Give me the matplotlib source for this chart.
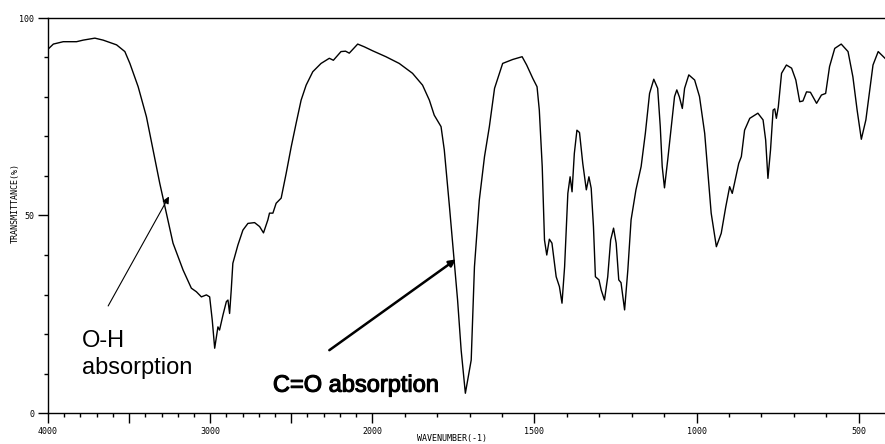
import numpy as np
import matplotlib
matplotlib.use("Agg")
import matplotlib.pyplot as plt
import matplotlib.ticker as mticker
import matplotlib.patheffects as pe

# IR spectrum (wavenumber in cm-1, transmittance in %)
wavenumber = [4000, 3967, 3906, 3824, 3783, 3711, 3660, 3577, 3526, 3495,
              3444, 3393, 3352, 3311, 3270, 3229, 3167, 3116, 3085, 3054,
              3023, 3003, 2987, 2972, 2952, 2942, 2921, 2900, 2890, 2880,
              2870, 2860, 2829, 2798, 2767, 2726, 2695, 2671, 2644, 2634,
              2613, 2593, 2562, 2531, 2500, 2470, 2439, 2408, 2367, 2316,
              2265, 2240, 2193, 2165, 2142, 2090, 2049, 1999, 1958, 1917,
              1876, 1845, 1824, 1809, 1788, 1778, 1762, 1747, 1737, 1726,
              1713, 1695, 1685, 1670, 1654, 1639, 1623, 1598, 1567, 1538,
              1524, 1505, 1492, 1485, 1476, 1469, 1462, 1454, 1446, 1433,
              1423, 1415, 1407, 1397, 1390, 1384, 1377, 1369, 1361, 1351,
              1340, 1332, 1325, 1318, 1312, 1301, 1294, 1284, 1274, 1265,
              1256, 1248, 1240, 1233, 1222, 1212, 1202, 1187, 1171, 1158,
              1145, 1132, 1120, 1112, 1106, 1099, 1089, 1078, 1068, 1061,
              1053, 1044, 1037, 1024, 1006, 991, 975, 965, 955, 939,
              924, 910, 898, 890, 883, 870, 862, 852, 836, 811,
              795, 787, 780, 772, 764, 759, 754, 748, 738, 723,
              707, 694, 682, 672, 661, 649, 630, 615, 602, 590,
              574, 554, 533, 518, 505, 492, 478, 466, 456, 440,
              419]
transmittance = [92.1, 93.4, 94.0, 94.0, 94.4, 94.9, 94.4, 93.2, 91.5, 88.5,
                 82.6, 75.0, 66.6, 58.2, 50.6, 43.0, 36.2, 31.6, 30.7, 29.4,
                 29.9, 29.4, 23.5, 16.4, 21.8, 21.0, 24.8, 28.2, 28.6, 25.2,
                 31.1, 37.9, 42.5, 46.3, 48.0, 48.2, 47.2, 45.6, 48.9, 50.6,
                 50.6, 53.1, 54.4, 60.7, 67.4, 73.3, 79.2, 83.0, 86.4, 88.5,
                 89.8, 89.3, 91.5, 91.6, 91.1, 93.4, 92.7, 91.7, 90.2, 88.5,
                 86.0, 83.0, 79.2, 75.4, 72.5, 66.6, 52.2, 37.9, 28.6, 15.9,
                 5.0, 13.4, 37.0, 53.9, 64.9, 72.5, 82.2, 88.5, 89.5, 90.2,
                 88.1, 84.7, 82.6, 76.7, 62.4, 43.8, 40.0, 44.0, 43.0, 34.5,
                 32.0, 27.8, 37.0, 55.6, 59.8, 56.0, 65.7, 71.6, 71.0, 63.2,
                 56.5, 59.8, 56.9, 47.2, 34.5, 33.7, 31.1, 28.6, 34.5, 43.8,
                 46.8, 43.0, 33.7, 33.0, 26.1, 36.2, 48.9, 56.5, 62.4, 70.8,
                 80.9, 84.5, 82.2, 72.5, 62.4, 57.0, 64.1, 72.5, 80.1, 81.8,
                 80.0, 77.1, 82.2, 85.6, 84.3, 80.1, 70.8, 60.7, 50.6, 42.1,
                 45.5, 52.2, 57.3, 55.6, 58.2, 63.2, 64.9, 71.6, 74.6, 75.9,
                 74.2, 69.1, 59.4, 66.6, 76.7, 77.0, 74.6, 77.5, 86.0, 88.1,
                 87.3, 84.3, 78.8, 79.0, 81.3, 81.2, 78.4, 80.5, 80.9, 87.7,
                 92.3, 93.4, 91.5, 85.1, 76.7, 69.3, 74.2, 81.8, 88.1, 91.5,
                 89.8]

major_ticks = [4000, 3500, 3000, 2500, 2000, 1500, 1000, 500]
labelled_ticks = [4000, 3000, 2000, 1500, 1000, 500]


# spectrometer axis: scale doubles below 2000 cm-1
def fwd(w):
    w = np.asarray(w, dtype=float)
    return np.where(w >= 2000, w, 2 * w - 2000)


def inv(p):
    p = np.asarray(p, dtype=float)
    return np.where(p >= 2000, p, (p + 2000) / 2)


def main():
    fig = plt.figure(figsize=(8.85, 4.44), dpi=100)
    ax = fig.add_axes([48 / 885, 31 / 444, 837 / 885, 395 / 444])

    ax.set_xscale("function", functions=(fwd, inv))
    ax.plot(wavenumber, transmittance, color="black", linewidth=1.0)
    ax.set_xlim(4000, 419)
    ax.set_ylim(0, 100)

    ax.spines["right"].set_visible(False)
    for s in ["top", "left", "bottom"]:
        ax.spines[s].set_linewidth(1.0)

    ax.xaxis.set_major_locator(mticker.FixedLocator(major_ticks))
    ax.xaxis.set_major_formatter(
        mticker.FuncFormatter(lambda v, pos: str(int(round(v))) if int(round(v)) in labelled_ticks else ""))
    minor_x = [w for w in range(4000, 400, -100) if w not in major_ticks]
    ax.xaxis.set_minor_locator(mticker.FixedLocator(minor_x))
    ax.yaxis.set_major_locator(mticker.FixedLocator([0, 50, 100]))
    ax.yaxis.set_minor_locator(mticker.FixedLocator(list(range(10, 100, 10))))
    ax.tick_params(which="major", length=7, width=1.0, direction="out", pad=3)
    ax.tick_params(which="minor", length=3, width=1.0, direction="out")
    for lab in ax.get_xticklabels() + ax.get_yticklabels():
        lab.set_fontfamily("DejaVu Sans Mono")
        lab.set_fontsize(6)

    fig.text(452 / 885, 1 - 438 / 444, "WAVENUMBER(-1)", ha="center", va="center",
             family="DejaVu Sans Mono", fontsize=6)
    fig.text(15 / 885, 1 - 203 / 444, "TRANSMITTANCE(%)", ha="center", va="center",
             rotation=90, family="DejaVu Sans Mono", fontsize=6)

    # annotations
    ax.annotate("", xy=(3254, 54.8), xytext=(3629, 27.1),
                arrowprops=dict(arrowstyle="-|>", color="black", lw=0.8,
                                mutation_scale=10, shrinkA=0, shrinkB=0))
    ax.text(3793, 16.8, "O-H", fontsize=17, family="Liberation Sans", ha="left", va="baseline")
    ax.text(3793, 9.9, "absorption", fontsize=17, family="Liberation Sans", ha="left", va="baseline")

    ax.annotate("", xy=(1742, 38.9), xytext=(2265, 15.9),
                arrowprops=dict(arrowstyle="-|>", color="black", lw=1.8,
                                mutation_scale=10, shrinkA=0, shrinkB=0))
    ax.text(2613, 5.4, "C=O absorption", fontsize=17, family="Liberation Sans",
            ha="left", va="baseline",
            path_effects=[pe.withStroke(linewidth=0.8, foreground="black")])

    plt.savefig("out.png", dpi=100)


if __name__ == "__main__":
    main()
